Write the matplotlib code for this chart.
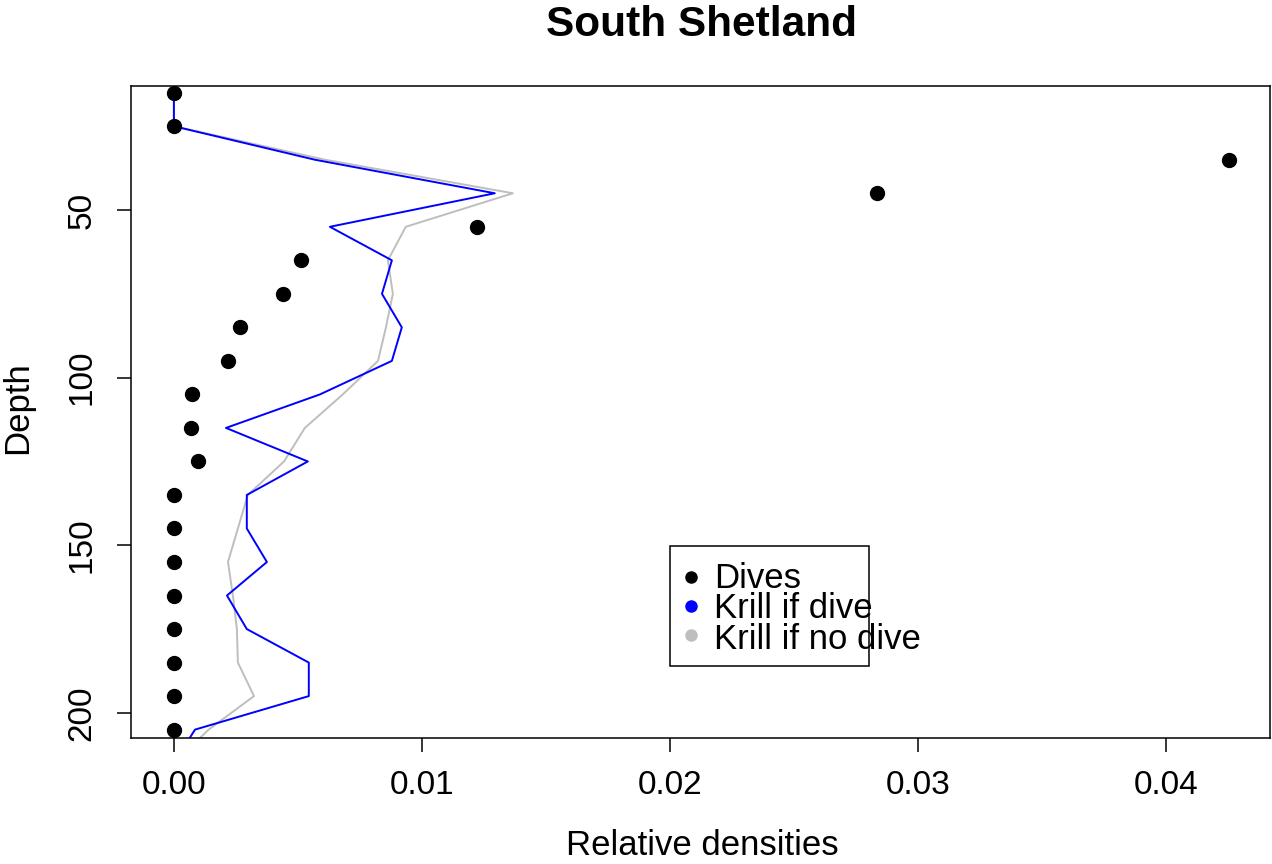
import matplotlib
matplotlib.use("Agg")
import matplotlib.pyplot as plt
from matplotlib.patches import Rectangle
from matplotlib.lines import Line2D

plt.rcParams['font.family'] = ['Liberation Sans', 'DejaVu Sans']

# ---- data ----
title = "South Shetland"
x_label = "Relative densities"
y_label = "Depth"

dive_depth = [15, 25, 35, 45, 55, 65, 75, 85, 95, 105, 115, 125, 135, 145, 155,
              165, 175, 185, 195, 205]
dives = [0.0, 0.0, 0.04254, 0.02835, 0.01222, 0.00512, 0.00440, 0.00266, 0.00218,
         0.00073, 0.00069, 0.00097, 0.0, 0.0, 0.0, 0.0, 0.0, 0.0, 0.0, 0.0]

krill_depth = [15, 25, 35, 45, 55, 65, 75, 85, 95, 105, 115, 125, 135, 145, 155,
               165, 175, 185, 195, 205, 215]
krill_if_dive = [0.0, 0.0, 0.00569, 0.01294, 0.00629, 0.00879, 0.00839, 0.00919,
                 0.00879, 0.00589, 0.00210, 0.00540, 0.00294, 0.00294, 0.00375,
                 0.00214, 0.00294, 0.00544, 0.00544, 0.00085, 0.0]
krill_if_no_dive = [0.0, 0.0, 0.00610, 0.01367, 0.00935, 0.00863, 0.00883, 0.00855,
                    0.00823, 0.00681, 0.00528, 0.00444, 0.00298, 0.00258, 0.00218,
                    0.00238, 0.00254, 0.00258, 0.00323, 0.00140, 0.0]

x_ticks = [0.00, 0.01, 0.02, 0.03, 0.04]
x_tick_labels = ["0.00", "0.01", "0.02", "0.03", "0.04"]
y_ticks = [50, 100, 150, 200]
y_tick_labels = ["50", "100", "150", "200"]

legend_labels = ["Dives", "Krill if dive", "Krill if no dive"]
legend_colors = ["black", "#0000FF", "#BEBEBE"]

# ---- figure ----
W, H = 1272, 864
fig = plt.figure(figsize=(W / 100, H / 100), dpi=100)

def fx(px):
    return px / W

def fy(py):
    return 1 - py / H

left, right, top, bottom = 131, 1270, 86, 738
ax = fig.add_axes([fx(left), fy(bottom), fx(right - left), (bottom - top) / H])

ax.plot(krill_if_dive, krill_depth, color=legend_colors[1], lw=1.4, zorder=2)
ax.plot(krill_if_no_dive, krill_depth, color=legend_colors[2], lw=1.4, zorder=1)
ax.plot(dives, dive_depth, 'o', color=legend_colors[0], ms=10, zorder=3)

ax.set_xlim(-0.00173, 0.0442)
ax.set_ylim(207.5, 13.0)

ax.set_xticks(x_ticks)
ax.set_xticklabels(x_tick_labels)
ax.set_yticks(y_ticks)
ax.set_yticklabels(y_tick_labels, rotation=90, va='center')

for s in ax.spines.values():
    s.set_linewidth(1.1)
ax.tick_params(axis='both', direction='out', length=10, width=1.1,
               labelsize=24, colors='black')
ax.tick_params(axis='x', pad=13)
ax.tick_params(axis='y', pad=14)

# axis labels and title
fig.text(fx(702), fy(855), x_label, ha='center', va='baseline', fontsize=25)
fig.text(fx(27), fy(408), y_label, ha='center', va='baseline', rotation=90,
         rotation_mode='anchor', fontsize=25)
fig.text(fx(701), fy(36), title, ha='center', va='baseline', fontsize=30.5,
         fontweight='bold')

# legend (R-style box, text overflowing as in reference)
fig.add_artist(Rectangle((fx(670), fy(666)), fx(869 - 670), (666 - 546) / H,
                         transform=fig.transFigure, fill=False,
                         edgecolor='black', lw=1.1))
row_centers = [577, 606, 635]
for col, yc in zip(legend_colors, row_centers):
    fig.add_artist(Line2D([fx(691)], [fy(yc)], marker='o', color=col, ms=8,
                          transform=fig.transFigure, linestyle='none'))
fig.text(fx(714), fy(609), "\n".join(legend_labels), ha='left', va='center',
         fontsize=25, linespacing=0.89)

fig.savefig("out.png", dpi=100)
